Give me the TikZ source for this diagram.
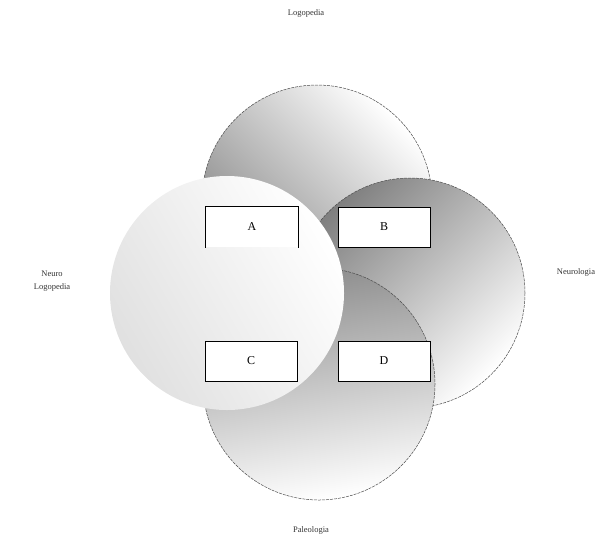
\documentclass[tikz,border=0pt]{standalone}
\usepackage{fontspec}
\setmainfont{Liberation Serif}
\usetikzlibrary{positioning}
\definecolor{RimClr}{rgb}{0.3,0.3,0.3}
\definecolor{DarkClr}{rgb}{0.5,0.5,0.5}

\begin{document}
\begin{tikzpicture}[x=1pt,y=-1pt,
  rim/.style={draw=RimClr,dash pattern=on 3pt off 1pt,line width=.5pt},
  field/.style={font=\fontsize{8.5}{10}\selectfont,align=center,text=black!80},
  letterbox/.style={draw,line width=1pt,fill=white,minimum width=92pt,minimum height=40pt,font=\fontsize{12}{12}\selectfont}]
\useasboundingbox (0,0) rectangle (604,542);

% circles, back to front
\shade[top color=DarkClr,bottom color=white,shading angle=135] (317,200) circle (115);
\draw[rim] (317,200) circle (115);
\shade[top color=DarkClr,bottom color=white,shading angle=45] (410,293) circle (115);
\draw[rim] (410,293) circle (115);
\shade[top color=DarkClr!90,bottom color=white,shading angle=10] (319,384) circle (116);
\draw[rim] (319,384) circle (116);
\shade[top color=white!88!black,bottom color=white,shading angle=120] (227,293) circle (117);

% boxes (A is open at the bottom)
\node[letterbox,draw=none] (A) at (252,227) {A};
\draw[line width=1pt] (A.south west) -- (A.north west) -- (A.north east) -- (A.south east);
\node[letterbox] (B) at (384,227) {B};
\node[letterbox] (C) at (251,361) {C};
\node[letterbox] (D) at (384,361) {D};

% labels
\node[field] (top) at (306,13) {Logopedia};
\node[field] (left) at (52,281) {Neuro\\[3pt]Logopedia};
\node[field] (right) at (576,272) {Neurologia};
\node[field] (bottom) at (311,530) {Paleologia};

\end{tikzpicture}
\end{document}
